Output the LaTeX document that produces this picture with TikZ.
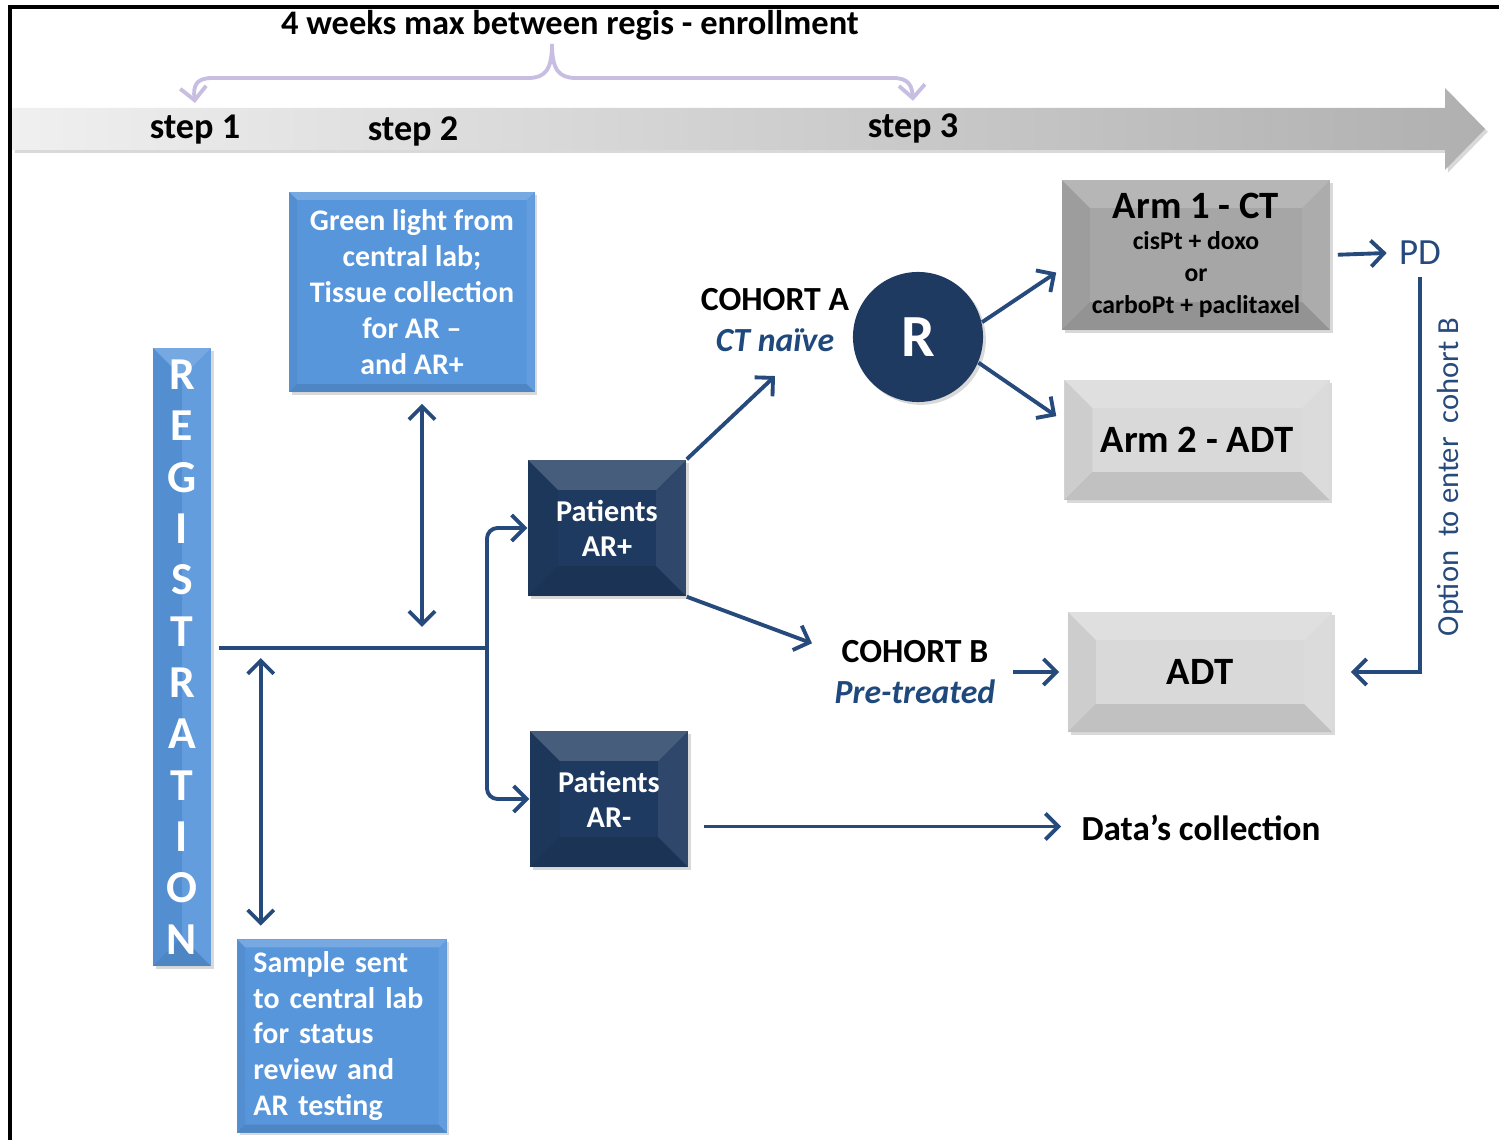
\documentclass[tikz,border=0pt]{standalone}
\usepackage{fontspec}
\setmainfont{Carlito}
\usetikzlibrary{arrows.meta, shadows}

\definecolor{lightblue}{RGB}{88,150,220}
\definecolor{navy}{RGB}{31,58,96}
\definecolor{linkblue}{RGB}{38,74,124}
\definecolor{textblue}{RGB}{31,73,125}
\definecolor{armgray}{RGB}{166,166,166}
\definecolor{palegray}{RGB}{217,217,217}
\definecolor{lavender}{RGB}{200,190,225}

\tikzset{bevel/.style={path picture={
    \coordinate (bvnw) at (path picture bounding box.north west);
    \coordinate (bvse) at (path picture bounding box.south east);
    \fill[white,opacity=0.18] (bvnw) -- (bvnw -| bvse) -- ([shift={(-#1,-#1)}]bvnw -| bvse) -- ([shift={(#1,-#1)}]bvnw) -- cycle;
    \fill[black,opacity=0.11] (bvse) -- (bvse -| bvnw) -- ([shift={(#1,#1)}]bvse -| bvnw) -- ([shift={(-#1,#1)}]bvse) -- cycle;
    \fill[black,opacity=0.05] (bvnw) -- (bvse -| bvnw) -- ([shift={(#1,#1)}]bvse -| bvnw) -- ([shift={(#1,-#1)}]bvnw) -- cycle;
    \fill[white,opacity=0.07] (bvse) -- (bvnw -| bvse) -- ([shift={(-#1,-#1)}]bvnw -| bvse) -- ([shift={(-#1,#1)}]bvse) -- cycle;
}}}

\tikzstyle{shade} = [drop shadow={opacity=0.3, shadow xshift=0.8pt, shadow yshift=-0.8pt}]
\tikzstyle{bluebox} = [rectangle, fill=lightblue, text=white, font=\fontsize{8.5}{10.2}\selectfont\bfseries, shade]
\tikzstyle{navybox} = [rectangle, fill=navy, text=white, align=center, minimum width=1.58cm, minimum height=1.36cm, font=\fontsize{8.6}{10}\selectfont\bfseries, bevel=0.3cm, shade]
\tikzstyle{graybox} = [rectangle, align=center, bevel=0.28cm, shade]
\tikzstyle{cohort} = [align=center, font=\fontsize{9.6}{11.6}\selectfont\bfseries]
\tikzstyle{steplabel} = [font=\fontsize{10.3}{12}\selectfont\bfseries]
\tikzstyle{link} = [line width=1.1pt, draw=linkblue]
\tikzstyle{arrow} = [link, ->, >={Straight Barb[length=1.3mm,width=2.6mm]}]
\tikzstyle{dblarrow} = [arrow, <->]
\tikzstyle{bracearrow} = [line width=1.1pt, draw=lavender, ->, >={Straight Barb[length=1.3mm,width=2.6mm]}]

\begin{document}
\begin{tikzpicture}[x=0.01cm, y=-0.01cm]
    \useasboundingbox (0,0) rectangle (1499,1140);
    \draw [line width=1.2pt] (10,1140) -- (10,7) -- (1499,7);

    %timeline
    \shade [left color=gray!12, right color=gray!62] (12,108) -- (1445,108) -- (1445,88) -- (1485,129) -- (1445,170) -- (1445,150) -- (12,150) -- cycle;
    \node (title) [steplabel, font=\fontsize{9.8}{12}\selectfont\bfseries] at (570,25) {4 weeks max between regis - enrollment};
    \node (step1) [steplabel] at (195,130) {step 1};
    \node (step2) [steplabel] at (413,131) {step 2};
    \node (step3) [steplabel] at (913,128) {step 3};
    \coordinate (peak) at (552,44);
    \draw [bracearrow] (peak) .. controls (552,70) and (545,78) .. (528,78) -- (212,78) .. controls (196,78) and (193,86) .. (step1.north);
    \draw [bracearrow] (peak) .. controls (552,70) and (559,78) .. (576,78) -- (893,78) .. controls (909,78) and (912,86) .. (step3.north);

    %nodes
    \node (green) [bluebox, bevel=0.08cm, align=center, minimum width=2.45cm, minimum height=2cm] at (412,292) {Green light from\\central lab;\\Tissue collection\\for AR~--\\and AR+};
    \node (reg) [bluebox, bevel=0.29cm, align=center, minimum width=0.58cm, minimum height=6.18cm, font=\fontsize{13}{14.6}\selectfont\bfseries] at (182,657) {R\\E\\G\\I\\S\\T\\R\\A\\T\\I\\O\\N};
    \node (sample) [bluebox, bevel=0.08cm, align=left, text width=1.77cm, minimum width=2.09cm, minimum height=1.93cm] at (342,1036) {Sample sent\\to central lab\\for status\\review and\\AR testing};
    \node (arp) [navybox] at (607,528) {Patients\\AR+};
    \node (arm) [navybox] at (609,799) {Patients\\AR-};
    \node (cohortA) [cohort] at (775,320) {COHORT A\\{\itshape\color{textblue}CT naïve}};
    \node (cohortB) [cohort] at (915,672) {COHORT B\\{\itshape\color{textblue}Pre-treated}};
    \node (rand) [circle, fill=navy, text=white, minimum size=1.3cm, font=\fontsize{17}{20}\selectfont\bfseries, shade] at (918,337) {R};
    \node (arm1) [graybox, fill=armgray, minimum width=2.68cm, minimum height=1.5cm, font=\fontsize{7.3}{9}\selectfont\bfseries] at (1196,255) {{\fontsize{11}{11}\selectfont Arm 1 - CT}\\cisPt + doxo\\or\\carboPt + paclitaxel};
    \node (arm2) [graybox, fill=palegray, minimum width=2.65cm, minimum height=1.2cm, font=\fontsize{11}{13}\selectfont\bfseries] at (1197,440) {Arm 2 - ADT};
    \node (adt) [graybox, fill=palegray, minimum width=2.64cm, minimum height=1.2cm, font=\fontsize{11}{13}\selectfont\bfseries] at (1200,672) {ADT};
    \node (pd) [text=linkblue, font=\fontsize{10.5}{12}\selectfont] at (1420,253) {PD};
    \node (option) [rotate=90, text=linkblue, font=\fontsize{8.7}{10}\selectfont] at (1450,477) {Option\ \ to enter\ \ cohort B};
    \node (data) [font=\fontsize{10}{12}\selectfont\bfseries] at (1201,828) {Data’s collection};

    %arrows
    \coordinate (split) at (487,648);
    \coordinate (gs) at ([xshift=0.1cm]green.south);
    \coordinate (sn) at ([xshift=0.24cm]sample.north west);
    \draw [link, shorten <=0.07cm] (reg.east |- split) -- (split);
    \draw [arrow, rounded corners=3pt] (split) |- (arp.west);
    \draw [arrow, rounded corners=3pt] (split) |- (arm.west);
    \draw [dblarrow, shorten <=0.11cm, shorten >=0.21cm] (gs) -- (gs |- split);
    \draw [dblarrow, shorten <=0.13cm, shorten >=0.1cm] (sn) -- (sn |- split);
    \draw [arrow] (arp.north east) -- ([yshift=-0.12cm]cohortA.south);
    \draw [arrow, shorten >=0.11cm] (arp.south east) -- (cohortB.165);
    \draw [arrow, shorten >=0.06cm] (rand.13) -- (arm1.186);
    \draw [arrow, shorten >=0.09cm] (rand.-23) -- (arm2.172);
    \draw [arrow, shorten <=0.05cm, shorten >=0.08cm] (cohortB.east) -- (adt.west);
    \draw [arrow, shorten <=0.07cm] (arm1.east) -- (pd.west);
    \draw [arrow, shorten >=0.18cm] (pd.south) |- (adt.east);
    \draw [arrow, shorten <=0.15cm, shorten >=0.08cm] (arm.-19) -- (arm.-19 -| data.west);
\end{tikzpicture}
\end{document}
